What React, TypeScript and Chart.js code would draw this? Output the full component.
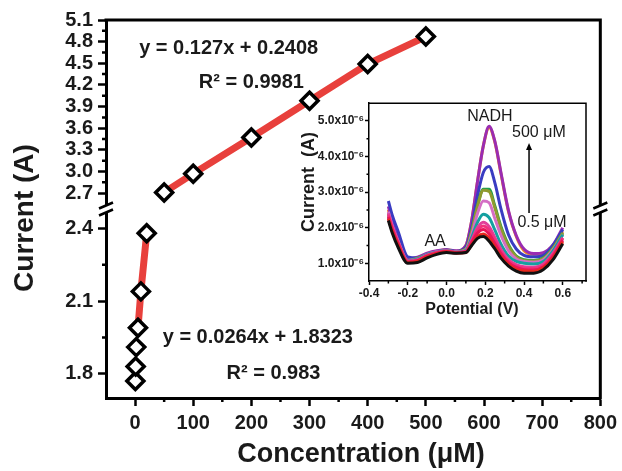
import React, { useEffect, useRef } from 'react';
import { Chart, registerables } from 'chart.js';

Chart.register(...registerables);

const FONT = "'Liberation Sans', Arial, Helvetica, sans-serif";
const TEXT = '#1a1a1a';

// ---------- main chart data ----------
const CONC_LOW = [0.5, 1, 2, 5, 10, 20];
const CURRENT_LOW = [1.77, 1.83, 1.91, 1.99, 2.14, 2.38];
const CONC_HIGH = [50, 100, 200, 300, 400, 500];
const CURRENT_HIGH = [2.71, 2.97, 3.47, 3.98, 4.49, 4.87];

const X_TICKS = [0, 100, 200, 300, 400, 500, 600, 700, 800];
const X_MINOR = [50, 150, 250, 350, 450, 550, 650, 750];
const Y_HIGH_TICKS = [2.7, 3.0, 3.3, 3.6, 3.9, 4.2, 4.5, 4.8, 5.1];
const Y_HIGH_MINOR = [2.85, 3.15, 3.45, 3.75, 4.05, 4.35, 4.65, 4.95];
const Y_LOW_TICKS = [1.8, 2.1, 2.4];
const Y_LOW_MINOR = [1.95, 2.25];

const MAIN_NOTES = [
  { text: 'y = 0.127x + 0.2408', x: 161, y: 4.7, axis: 'yHigh' },
  { text: 'R² = 0.9981', x: 200, y: 4.23, axis: 'yHigh' },
  { text: 'y = 0.0264x + 1.8323', x: 211, y: 1.948, axis: 'yLow' },
  { text: 'R² = 0.983', x: 238, y: 1.8, axis: 'yLow' },
];

// ---------- inset (CV) data ----------
const POTENTIAL = [-0.3, -0.28, -0.25, -0.2, -0.15, -0.1, -0.05, 0, 0.05, 0.1, 0.13, 0.16, 0.19, 0.22, 0.25, 0.28, 0.32, 0.36, 0.4, 0.45, 0.5, 0.55, 0.6];
const CV_0_5 = [2.2, 1.85, 1.45, 1.0, 1.02, 1.15, 1.25, 1.3, 1.28, 1.3, 1.5, 1.7, 1.75, 1.62, 1.4, 1.15, 0.92, 0.78, 0.72, 0.72, 0.82, 1.1, 1.55];
const CV_1 = [2.25, 1.9, 1.5, 1.02, 1.05, 1.18, 1.27, 1.32, 1.28, 1.3, 1.52, 1.75, 1.82, 1.7, 1.45, 1.2, 0.97, 0.83, 0.78, 0.77, 0.87, 1.15, 1.6];
const CV_2 = [2.3, 1.95, 1.55, 1.03, 1.07, 1.2, 1.28, 1.33, 1.3, 1.32, 1.58, 1.85, 1.95, 1.82, 1.55, 1.28, 1.02, 0.88, 0.82, 0.81, 0.9, 1.2, 1.65];
const CV_5 = [2.35, 2.0, 1.58, 1.05, 1.08, 1.22, 1.3, 1.34, 1.3, 1.33, 1.62, 1.93, 2.05, 1.93, 1.63, 1.33, 1.06, 0.92, 0.86, 0.85, 0.94, 1.25, 1.7];
const CV_10 = [2.4, 2.02, 1.6, 1.06, 1.1, 1.23, 1.3, 1.35, 1.31, 1.34, 1.65, 2.0, 2.15, 2.03, 1.72, 1.4, 1.1, 0.96, 0.9, 0.89, 0.98, 1.28, 1.72];
const CV_20 = [2.3, 1.95, 1.55, 1.07, 1.12, 1.25, 1.31, 1.36, 1.31, 1.36, 1.72, 2.15, 2.38, 2.28, 1.93, 1.55, 1.2, 1.05, 1.0, 0.98, 1.05, 1.35, 1.8];
const CV_50 = [2.45, 2.05, 1.62, 1.08, 1.12, 1.25, 1.32, 1.36, 1.32, 1.38, 1.8, 2.4, 2.75, 2.7, 2.25, 1.8, 1.35, 1.12, 1.05, 1.03, 1.1, 1.38, 1.8];
const CV_100 = [2.4, 2.0, 1.6, 1.08, 1.14, 1.24, 1.31, 1.36, 1.32, 1.4, 1.9, 2.6, 3.05, 3.02, 2.55, 2.0, 1.48, 1.18, 1.08, 1.06, 1.13, 1.42, 1.85];
const CV_200 = [2.4, 2.0, 1.6, 1.05, 1.1, 1.2, 1.28, 1.34, 1.32, 1.4, 1.9, 2.62, 3.08, 3.08, 2.6, 2.05, 1.52, 1.2, 1.1, 1.08, 1.15, 1.43, 1.85];
const CV_300 = [2.75, 2.35, 1.9, 1.18, 1.15, 1.25, 1.32, 1.37, 1.33, 1.45, 2.0, 2.9, 3.55, 3.72, 3.25, 2.55, 1.8, 1.4, 1.22, 1.18, 1.22, 1.5, 1.95];
const CV_400 = [2.5, 2.1, 1.68, 1.1, 1.15, 1.27, 1.34, 1.38, 1.34, 1.5, 2.2, 3.3, 4.3, 4.82, 4.4, 3.55, 2.45, 1.75, 1.35, 1.25, 1.28, 1.5, 1.9];
const CV_500 = [2.6, 2.15, 1.72, 1.12, 1.17, 1.28, 1.35, 1.38, 1.35, 1.5, 2.2, 3.3, 4.3, 4.85, 4.42, 3.58, 2.48, 1.78, 1.4, 1.27, 1.3, 1.52, 2.0];

const CV_SERIES = [
  { data: CV_0_5, color: '#111111' },
  { data: CV_1, color: '#e8281e' },
  { data: CV_2, color: '#e8145a' },
  { data: CV_5, color: '#f2307c' },
  { data: CV_10, color: '#e0409a' },
  { data: CV_20, color: '#14a0a0' },
  { data: CV_50, color: '#d46ec4' },
  { data: CV_100, color: '#8f9a2e' },
  { data: CV_200, color: '#1f9e4c' },
  { data: CV_300, color: '#3a3cc2' },
  { data: CV_500, color: '#9a2cb2' },
  { data: CV_400, color: '#f08a20' },
];

const INSET_X_TICKS = [-0.4, -0.2, 0, 0.2, 0.4, 0.6];
const INSET_X_MINOR = [-0.3, -0.1, 0.1, 0.3, 0.5, 0.7];
const INSET_Y_TICKS = [1, 2, 3, 4, 5];
const INSET_Y_MINOR = [1.5, 2.5, 3.5, 4.5];

const INSET_NOTES = [
  { text: 'NADH', x: 0.224, y: 5.11 },
  { text: '500 μM', x: 0.477, y: 4.66 },
  { text: '0.5 μM', x: 0.493, y: 2.13 },
  { text: 'AA', x: -0.059, y: 1.62 },
];
const ARROW = { x: 0.426, from: 2.41, to: 4.38 };

function drawMinor(chart: any, id: string, values: number[], len: number, width: number) {
  const s = chart.scales[id];
  const ctx = chart.ctx;
  ctx.save();
  ctx.strokeStyle = '#000';
  ctx.lineWidth = width;
  ctx.beginPath();
  for (const v of values) {
    if (v <= s.min || v >= s.max) continue;
    const p = s.getPixelForValue(v);
    if (s.isHorizontal()) {
      ctx.moveTo(p, s.top);
      ctx.lineTo(p, s.top + len);
    } else {
      ctx.moveTo(s.right, p);
      ctx.lineTo(s.right - len, p);
    }
  }
  ctx.stroke();
  ctx.restore();
}

const mainPlugin = {
  id: 'mainDecor',
  afterDraw(chart: any) {
    const { ctx, chartArea: a } = chart;
    drawMinor(chart, 'x', X_MINOR, 4, 2.5);
    drawMinor(chart, 'yHigh', Y_HIGH_MINOR, 4, 2.5);
    drawMinor(chart, 'yLow', Y_LOW_MINOR, 4, 2.5);
    ctx.save();
    ctx.strokeStyle = '#000';
    ctx.lineWidth = 3;
    ctx.beginPath();
    ctx.moveTo(a.left - 1.5, a.top);
    ctx.lineTo(a.right + 1.5, a.top);
    ctx.moveTo(a.right, a.top);
    ctx.lineTo(a.right, a.bottom + 1.5);
    ctx.stroke();
    const b = chart.scales.yHigh.bottom;
    for (const x of [a.left, a.right]) {
      ctx.fillStyle = '#fff';
      ctx.fillRect(x - 4, b - 4, 8, 8);
      ctx.lineWidth = 2.5;
      ctx.beginPath();
      for (const d of [-3.5, 3.5]) {
        ctx.moveTo(x - 7, b + d + 3);
        ctx.lineTo(x + 7, b + d - 3);
      }
      ctx.stroke();
    }
    ctx.fillStyle = TEXT;
    ctx.textAlign = 'center';
    ctx.textBaseline = 'middle';
    ctx.font = `bold 20px ${FONT}`;
    for (const n of MAIN_NOTES) {
      const px = chart.scales.x.getPixelForValue(n.x);
      const py = chart.scales[n.axis].getPixelForValue(n.y);
      ctx.fillText(n.text, px, py);
    }
    ctx.font = `bold 27px ${FONT}`;
    ctx.fillText('Concentration (μM)', 361, 455);
    ctx.translate(25, 218);
    ctx.rotate(-Math.PI / 2);
    ctx.font = `bold 28px ${FONT}`;
    ctx.fillText('Current (A)', 0, 0);
    ctx.restore();
  },
};

const insetPlugin = {
  id: 'insetDecor',
  afterDraw(chart: any) {
    const { ctx, chartArea: a } = chart;
    drawMinor(chart, 'x', INSET_X_MINOR, 2.5, 1.5);
    drawMinor(chart, 'y', INSET_Y_MINOR, 2.5, 1.5);
    ctx.save();
    ctx.strokeStyle = '#000';
    ctx.lineWidth = 1.5;
    ctx.beginPath();
    ctx.moveTo(a.left - 0.75, a.top);
    ctx.lineTo(a.right + 0.75, a.top);
    ctx.moveTo(a.right, a.top);
    ctx.lineTo(a.right, a.bottom + 0.75);
    ctx.stroke();
    const xs = chart.scales.x;
    const ys = chart.scales.y;
    ctx.fillStyle = TEXT;
    ctx.textAlign = 'center';
    ctx.textBaseline = 'middle';
    ctx.font = `16px ${FONT}`;
    for (const n of INSET_NOTES) {
      ctx.fillText(n.text, xs.getPixelForValue(n.x), ys.getPixelForValue(n.y));
    }
    // arrow
    const ax = xs.getPixelForValue(ARROW.x);
    const y1 = ys.getPixelForValue(ARROW.from);
    const y2 = ys.getPixelForValue(ARROW.to);
    ctx.lineWidth = 1.5;
    ctx.strokeStyle = '#000';
    ctx.beginPath();
    ctx.moveTo(ax, y1);
    ctx.lineTo(ax, y2 + 4);
    ctx.stroke();
    ctx.fillStyle = '#000';
    ctx.beginPath();
    ctx.moveTo(ax, y2);
    ctx.lineTo(ax - 3, y2 + 7);
    ctx.lineTo(ax + 3, y2 + 7);
    ctx.closePath();
    ctx.fill();
    // titles
    ctx.fillStyle = TEXT;
    ctx.font = `bold 16px ${FONT}`;
    ctx.fillText('Potential (V)', 172, 215);
    ctx.translate(9, 87);
    ctx.rotate(-Math.PI / 2);
    ctx.font = `bold 18px ${FONT}`;
    ctx.fillText('Current  (A)', 0, 0);
    ctx.restore();
  },
};

function axisCommon(tickLen: number, tickW: number, borderW: number, fontSize: number, pad: number) {
  return {
    grid: { drawOnChartArea: false, tickLength: tickLen, tickWidth: tickW, tickColor: '#000' },
    border: { display: true, color: '#000', width: borderW },
    ticks: {
      font: { size: fontSize, weight: 'bold', family: FONT },
      color: TEXT,
      padding: pad,
      autoSkip: false,
      maxRotation: 0,
    },
  };
}

export default function App() {
  const mainRef = useRef<HTMLCanvasElement>(null);
  const insetRef = useRef<HTMLCanvasElement>(null);

  useEffect(() => {
    document.body.style.margin = '0';
    Chart.defaults.font.family = FONT;

    const main = new Chart(mainRef.current as HTMLCanvasElement, {
      type: 'scatter',
      data: {
        datasets: [
          {
            data: CONC_LOW.map((x, i) => ({ x, y: CURRENT_LOW[i] })),
            yAxisID: 'yLow',
            pointStyle: 'rectRot',
            pointRadius: 8.5,
            pointBorderWidth: 3.5,
            pointBorderColor: '#000',
            pointBackgroundColor: '#fff',
          },
          {
            data: CONC_HIGH.map((x, i) => ({ x, y: CURRENT_HIGH[i] })),
            yAxisID: 'yHigh',
            pointStyle: 'rectRot',
            pointRadius: 8.5,
            pointBorderWidth: 3.5,
            pointBorderColor: '#000',
            pointBackgroundColor: '#fff',
          },
          {
            data: CONC_LOW.slice(3).map((x, i) => ({ x, y: CURRENT_LOW[i + 3] })),
            yAxisID: 'yLow',
            showLine: true,
            borderColor: '#e8403c',
            borderWidth: 7,
            pointRadius: 0,
          },
          {
            data: CONC_HIGH.map((x, i) => ({ x, y: CURRENT_HIGH[i] })),
            yAxisID: 'yHigh',
            showLine: true,
            borderColor: '#e8403c',
            borderWidth: 7,
            pointRadius: 0,
          },
        ],
      } as any,
      options: {
        responsive: false,
        animation: false,
        layout: { padding: { top: 20, right: 20, left: 0, bottom: 0 } },
        plugins: { legend: { display: false }, tooltip: { enabled: false } },
        scales: {
          x: {
            type: 'linear',
            min: -50,
            max: 800,
            afterBuildTicks: (s: any) => { s.ticks = X_TICKS.map((v) => ({ value: v })); },
            afterFit: (s: any) => { s.height = 73; },
            ...axisCommon(8, 2.5, 3, 20, 5),
          },
          yLow: {
            type: 'linear',
            position: 'left',
            stack: 'v',
            stackWeight: 1,
            min: 1.7,
            max: 2.48,
            afterBuildTicks: (s: any) => { s.ticks = Y_LOW_TICKS.map((v) => ({ value: v })); },
            afterFit: (s: any) => { s.width = 106; },
            ...axisCommon(8, 2.5, 3, 20, 5),
            ticks: { ...axisCommon(8, 2.5, 3, 20, 5).ticks, callback: (v: any) => Number(v).toFixed(1) },
          },
          yHigh: {
            type: 'linear',
            position: 'left',
            stack: 'v',
            stackWeight: 1,
            min: 2.48,
            max: 5.1,
            afterBuildTicks: (s: any) => { s.ticks = Y_HIGH_TICKS.map((v) => ({ value: v })); },
            afterFit: (s: any) => { s.width = 106; },
            ...axisCommon(8, 2.5, 3, 20, 5),
            ticks: { ...axisCommon(8, 2.5, 3, 20, 5).ticks, callback: (v: any) => Number(v).toFixed(1) },
          },
        },
      } as any,
      plugins: [mainPlugin],
    });

    const inset = new Chart(insetRef.current as HTMLCanvasElement, {
      type: 'line',
      data: {
        datasets: CV_SERIES.map((s) => ({
          data: POTENTIAL.map((x, i) => ({ x, y: s.data[i] })),
          borderColor: s.color,
          borderWidth: 3,
          pointRadius: 0,
          cubicInterpolationMode: 'monotone',
          fill: false,
        })),
      } as any,
      options: {
        responsive: false,
        animation: false,
        layout: { padding: { top: 8, right: 14, left: 0, bottom: 0 } },
        plugins: { legend: { display: false }, tooltip: { enabled: false } },
        scales: {
          x: {
            type: 'linear',
            min: -0.4,
            max: 0.72,
            afterBuildTicks: (s: any) => { s.ticks = INSET_X_TICKS.map((v) => ({ value: v })); },
            afterFit: (s: any) => { s.height = 49; },
            ...axisCommon(4, 1.5, 1.5, 12, 1),
            ticks: { ...axisCommon(4, 1.5, 1.5, 12, 1).ticks, callback: (v: any) => Number(v).toFixed(1) },
          },
          y: {
            type: 'linear',
            min: 0.5,
            max: 5.5,
            afterBuildTicks: (s: any) => { s.ticks = INSET_Y_TICKS.map((v) => ({ value: v })); },
            afterFit: (s: any) => { s.width = 69; },
            ...axisCommon(4, 1.5, 1.5, 12, 1),
            ticks: { ...axisCommon(4, 1.5, 1.5, 12, 1).ticks, callback: (v: any) => `${Number(v).toFixed(1)}x10⁻⁶` },
          },
        },
      } as any,
      plugins: [insetPlugin],
    });

    return () => {
      main.destroy();
      inset.destroy();
    };
  }, []);

  return (
    <div style={{ position: 'relative', width: 622, height: 471, background: '#fff' }}>
      <canvas ref={mainRef} width={622} height={471} style={{ position: 'absolute', left: 0, top: 0 }} />
      <canvas ref={insetRef} width={300} height={235} style={{ position: 'absolute', left: 300, top: 95 }} />
    </div>
  );
}
